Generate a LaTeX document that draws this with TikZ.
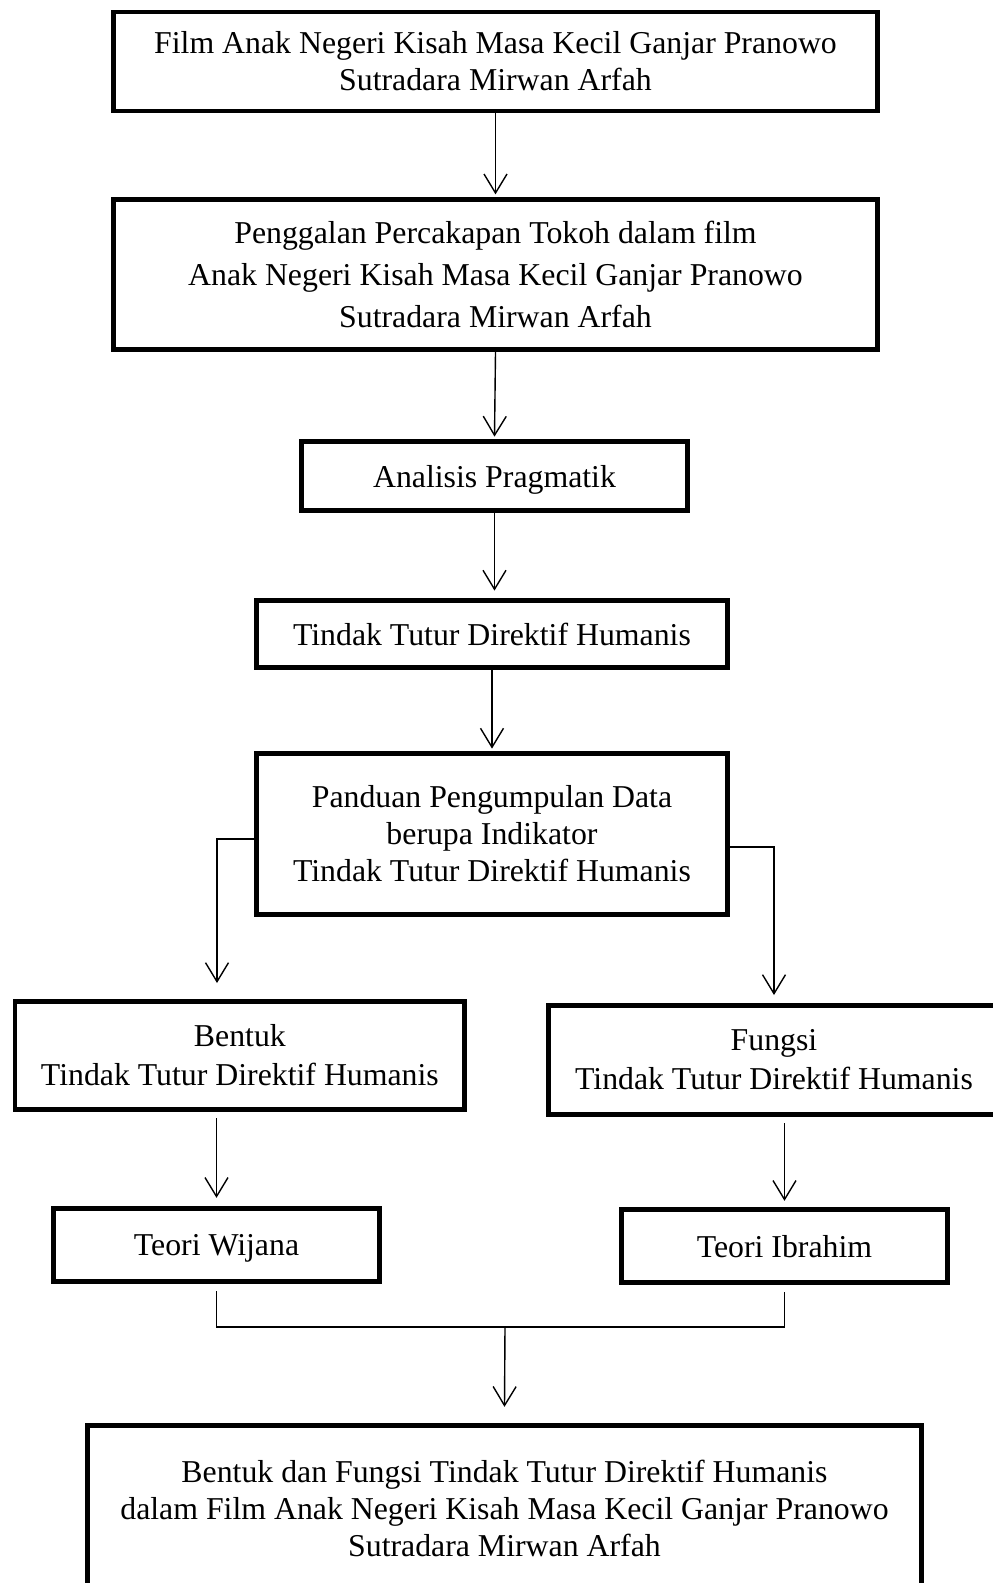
\documentclass[tikz,border=0pt]{standalone}
\usepackage{fontspec}
\setmainfont{Liberation Serif}
\usetikzlibrary{arrows.meta}
\begin{document}
\begin{tikzpicture}[x=1pt,y=-1pt,
  box/.style={draw,line width=4.8pt,inner sep=0pt,align=center,font=\fontsize{31.8}{37}\selectfont},
  onebox/.style={box,text depth=0pt},
  conn/.style={line width=1.4pt},
  arr/.style={conn,-{Straight Barb[length=19pt,width=23pt,line width=1.4pt]}}]
\useasboundingbox (0,0) rectangle (993,1583);
\clip (0,0) rectangle (993,1583);
\node[box,minimum width=764.5pt,minimum height=99pt] (b1) at (495.5,61.5)
  {Film Anak Negeri Kisah Masa Kecil Ganjar Pranowo\\Sutradara Mirwan Arfah};
\node[box,minimum width=764.5pt,minimum height=150.5pt,font=\fontsize{31.8}{42}\selectfont] (b2) at (495.5,274.5)
  {Penggalan Percakapan Tokoh dalam film\\Anak Negeri Kisah Masa Kecil Ganjar Pranowo\\Sutradara Mirwan Arfah};
\node[onebox,minimum width=386.5pt,minimum height=69pt] (b3) at (494.5,476)
  {Analisis Pragmatik};
\node[onebox,minimum width=471.5pt,minimum height=67pt] (b4) at (492,634)
  {Tindak Tutur Direktif Humanis};
\node[box,minimum width=471.5pt,minimum height=161pt] (b5) at (492,834)
  {Panduan Pengumpulan Data\\berupa Indikator\\Tindak Tutur Direktif Humanis};
\node[box,minimum width=449.75pt,minimum height=108.5pt,font=\fontsize{31.8}{39}\selectfont] (b6) at (239.9,1055.5)
  {Bentuk\\Tindak Tutur Direktif Humanis};
\node[box,minimum width=451.75pt,minimum height=109.5pt,font=\fontsize{31.8}{39}\selectfont] (b7) at (774,1060)
  {Fungsi\\Tindak Tutur Direktif Humanis};
\node[onebox,minimum width=326.5pt,minimum height=73.5pt] (w) at (216.5,1245)
  {Teori Wijana};
\node[onebox,minimum width=326.5pt,minimum height=73.5pt] (ib) at (784.5,1246)
  {Teori Ibrahim};
\node[box,minimum width=834.5pt,minimum height=165.5pt] (fin) at (504.5,1508)
  {Bentuk dan Fungsi Tindak Tutur Direktif Humanis\\dalam Film Anak Negeri Kisah Masa Kecil Ganjar Pranowo\\Sutradara Mirwan Arfah};
% vertical chain
\draw[arr] (b1.south) -- ([yshift=2.5pt]b2.north);
\draw[arr] (b2.south) -- ([yshift=2.5pt]b3.north);
\draw[arr] (b3.south) -- ([yshift=7.5pt]b3.south |- b4.north);
\draw[arr] (b4.south) -- ([yshift=2.5pt]b4.south |- b5.north);
% split
\coordinate (t1) at (217,983);
\coordinate (t2) at (774,995);
\draw[arr] ([yshift=-5pt]b5.west) -| (t1);
\draw[arr] ([yshift=-13pt]b5.east) -| (t2);
% to theories
\draw[arr] ([yshift=-6pt]w.north |- b6.south) -- ([yshift=8pt]w.north);
\draw[arr] ([yshift=-6pt]ib.north |- b7.south) -- ([yshift=6pt]ib.north);
% merge
\coordinate (m) at (505,1327);
\draw[conn] ([yshift=-7pt]w.south) |- (m) -| ([yshift=-7pt]ib.south);
\draw[arr] (m) -- ([yshift=16pt]fin.north);
\end{tikzpicture}
\end{document}
